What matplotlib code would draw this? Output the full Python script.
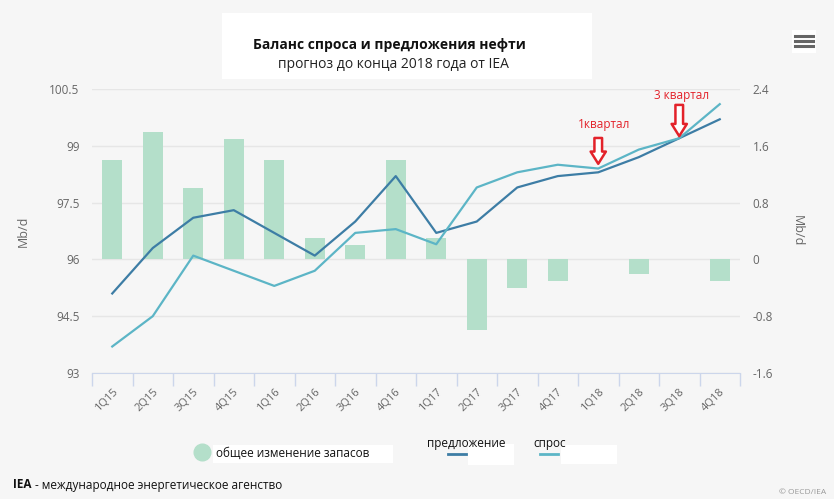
import matplotlib.pyplot as plt
import numpy as np
from matplotlib.patches import Rectangle
from matplotlib.lines import Line2D

# data
quarters = ['1Q15', '2Q15', '3Q15', '4Q15', '1Q16', '2Q16', '3Q16', '4Q16',
            '1Q17', '2Q17', '3Q17', '4Q17', '1Q18', '2Q18', '3Q18', '4Q18']
stock_change = [1.4, 1.8, 1.0, 1.7, 1.4, 0.3, 0.2, 1.4,
                0.3, -1.0, -0.4, -0.3, 0.0, -0.2, 0.0, -0.3]
supply = [95.1, 96.3, 97.1, 97.3, 96.7, 96.1, 97.0, 98.2,
          96.7, 97.0, 97.9, 98.2, 98.3, 98.7, 99.2, 99.7]
demand = [93.7, 94.5, 96.1, 95.7, 95.3, 95.7, 96.7, 96.8,
          96.4, 97.9, 98.3, 98.5, 98.4, 98.9, 99.2, 100.1]

bg = '#f6f6f6'
bar_color = '#b4dfca'
supply_color = '#3d7da5'
demand_color = '#5cb5c6'
red = '#e3222a'
grey = '#666666'
plt.rcParams['font.family'] = ['Open Sans', 'DejaVu Sans']

W, H = 834, 499
fig = plt.figure(figsize=(W / 100, H / 100), dpi=100, facecolor=bg)


def fx(x):
    return x / W


def fy(y):
    return 1 - y / H


axL = fig.add_axes([fx(92), fy(373), fx(740) - fx(92), fy(89) - fy(373)])
axR = axL.twinx()
axR.set_zorder(1)
axL.set_zorder(2)
axL.patch.set_visible(False)
axR.set_facecolor(bg)

x = np.arange(len(quarters))

# bars on right axis
axR.bar(x, stock_change, width=0.49, color=bar_color, zorder=2)
axR.set_ylim(-1.6, 2.4)
axR.set_yticks(np.arange(-1.6, 2.41, 0.8))
axR.set_yticklabels(['-1.6', '-0.8', '0', '0.8', '1.6', '2.4'])
axR.grid(axis='y', color='#e6e6e6', linewidth=1, zorder=0)
axR.set_axisbelow(True)

# lines on left axis
axL.plot(x, supply, color=supply_color, linewidth=1.6)
axL.plot(x, demand, color=demand_color, linewidth=1.6)
axL.set_ylim(93, 100.5)
axL.set_yticks([93, 94.5, 96, 97.5, 99, 100.5])
axL.set_yticklabels(['93', '94.5', '96', '97.5', '99', '100.5'])
axL.set_xlim(-0.5, len(quarters) - 0.5)

for a in (axL, axR):
    for s in a.spines.values():
        s.set_visible(False)
    a.tick_params(axis='y', length=0, labelsize=8.5, labelcolor=grey, pad=9)
axL.spines['bottom'].set_visible(True)
axL.spines['bottom'].set_color('#ccd6eb')

axL.set_xticks(x)
axL.set_xticklabels(quarters, rotation=45, ha='right', rotation_mode='anchor')
axL.set_xticks(np.arange(-0.5, len(quarters)), minor=True)
axL.tick_params(axis='x', which='major', length=0, labelsize=8,
                labelcolor=grey, pad=10)
axL.tick_params(axis='x', which='minor', length=9, color='#ccd6eb', width=1)
axR.tick_params(axis='x', which='both', length=0)

axL.set_ylabel('Mb/d', color=grey, fontsize=9, labelpad=14)
axR.set_ylabel('Mb/d', color=grey, fontsize=9, rotation=-90, labelpad=22)

# red arrows pointing at 1Q18 and 3Q18
arrow_kw = dict(arrowstyle='simple,head_length=0.8,head_width=1.0,tail_width=0.5',
                fc='white', ec=red, lw=1.8, mutation_scale=11, shrinkA=0)
axL.annotate('', xy=(12, demand[12]), xytext=(0, 22), textcoords='offset points',
             arrowprops=dict(**arrow_kw, shrinkB=3.4))
axL.annotate('1квартал', xy=(12, demand[12]), xytext=(4.5, 32),
             textcoords='offset points', ha='center', va='center',
             color=red, fontsize=8.5)
axL.annotate('', xy=(14, demand[14]), xytext=(0, 24), textcoords='offset points',
             arrowprops=dict(**arrow_kw, shrinkB=1.5))
axL.annotate('3 квартал', xy=(14, demand[14]), xytext=(2, 31),
             textcoords='offset points', ha='center', va='center',
             color=red, fontsize=8.5)

# title box
fig.patches.append(Rectangle((fx(222), fy(79)), fx(592) - fx(222), fy(13) - fy(79),
                             transform=fig.transFigure, facecolor='white',
                             edgecolor='none', zorder=0))
fig.text(fx(389), fy(45), 'Баланс спроса и предложения нефти', ha='center',
         va='center', fontsize=10, fontweight='bold', color='#111111')
fig.text(fx(393), fy(64), 'прогноз до конца 2018 года от IEA', ha='center',
         va='center', fontsize=10, color='#222222')

# menu icon
fig.patches.append(Rectangle((fx(792), fy(53)), fx(24), fy(30) - fy(53),
                             transform=fig.transFigure, facecolor='white',
                             edgecolor='none'))
for yy in (36, 41, 46):
    fig.add_artist(Line2D([fx(795), fx(813)], [fy(yy), fy(yy)], color='#666666',
                          linewidth=2.2))

# legend
for bx0, by0, bx1, by1 in [(213, 445, 393, 463), (468, 444, 514, 465),
                           (561, 445, 617, 464)]:
    fig.patches.append(Rectangle((fx(bx0), fy(by1)), fx(bx1 - bx0), fy(by0) - fy(by1),
                                 transform=fig.transFigure, facecolor='white',
                                 edgecolor='none'))
fig.add_artist(Line2D([fx(202)], [fy(452)], marker='o', markersize=12,
                      color=bar_color, linestyle='none'))
fig.text(fx(216), fy(453), 'общее изменение запасов', ha='left', va='center',
         fontsize=8.5, color='#111111')
fig.text(fx(427), fy(443), 'предложение', ha='left', va='center',
         fontsize=8.5, color='#111111')
fig.add_artist(Line2D([fx(448), fx(466)], [fy(454), fy(454)], color=supply_color,
                      linewidth=2))
fig.text(fx(533), fy(443), 'спрос', ha='left', va='center',
         fontsize=8.5, color='#111111')
fig.add_artist(Line2D([fx(540), fx(558)], [fy(454), fy(454)], color=demand_color,
                      linewidth=2))

# footer
t1 = fig.text(fx(13), fy(485), 'IEA', ha='left', va='center', fontsize=8.5,
              fontweight='bold', color='#111111')
axL.annotate(' - международное энергетическое агенство', xy=(1, 0.5), xycoords=t1,
             xytext=(0, 0), textcoords='offset points', ha='left', va='center',
             fontsize=8.5, color='#111111', annotation_clip=False)
fig.text(fx(826), fy(492), '© OECD/IEA', ha='right', va='center', fontsize=6,
         color='#999999')

fig.savefig('out.png', dpi=100, facecolor=bg)
